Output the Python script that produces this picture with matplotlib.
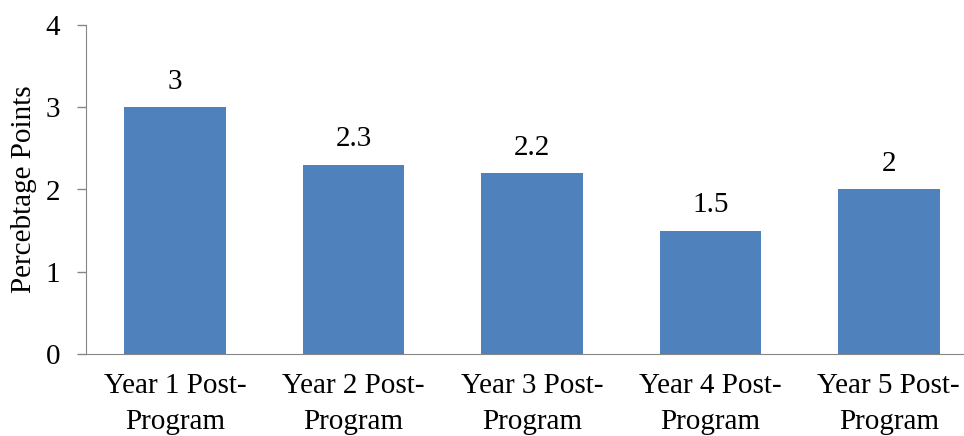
import matplotlib
matplotlib.use("Agg")
import matplotlib.pyplot as plt

categories = ["Year 1 Post-\nProgram", "Year 2 Post-\nProgram", "Year 3 Post-\nProgram",
              "Year 4 Post-\nProgram", "Year 5 Post-\nProgram"]
values = [3, 2.3, 2.2, 1.5, 2]
value_labels = ["3", "2.3", "2.2", "1.5", "2"]

plt.rcParams["font.family"] = ["Liberation Serif", "DejaVu Serif"]

W, H = 964, 436
fig = plt.figure(figsize=(W / 100, H / 100), dpi=100)
left, right, top, bottom = 86, 978, 25, 354
ax = fig.add_axes([left / W, (H - bottom) / H, (right - left) / W, (bottom - top) / H])

x = range(len(values))
ax.bar(x, values, width=0.57, color="#4F81BD", zorder=2)
for xi, v, lab in zip(x, values, value_labels):
    ax.annotate(lab, (xi, v), xytext=(0, 9), textcoords="offset points",
                ha="center", va="bottom", fontsize=21)

ax.set_xlim(-0.5, 4.5)
ax.set_ylim(0, 4)
ax.set_yticks([0, 1, 2, 3, 4])
ax.set_xticks(list(x))
ax.set_xticklabels(categories, fontsize=21, linespacing=1.5)
ax.tick_params(axis="y", labelsize=21, length=6.5, width=1, color="#868686", pad=12)
ax.tick_params(axis="x", length=0, pad=14)

for s in ["top", "right"]:
    ax.spines[s].set_visible(False)
ax.spines["left"].set_color("#868686")
ax.spines["bottom"].set_color("#868686")

ax.set_ylabel("Percebtage Points", fontsize=21, labelpad=6)

fig.savefig("out.png", dpi=100)
